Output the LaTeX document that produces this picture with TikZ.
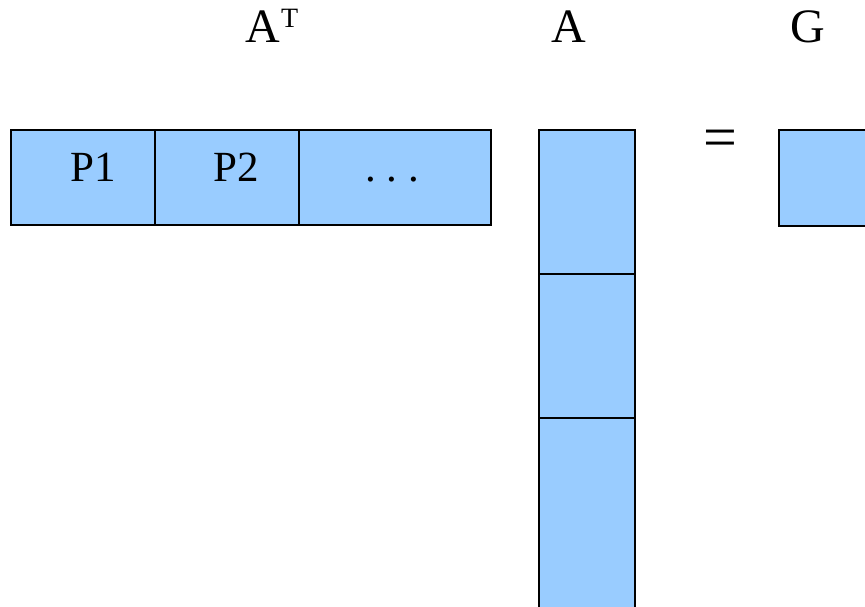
\documentclass[tikz,border=0pt]{standalone}
\usepackage{fontspec}
\setmainfont{Liberation Serif}
\begin{document}
\begin{tikzpicture}[x=1pt,y=-1pt,
  cell/.style={draw=black,line width=2pt,fill=cellblue,inner sep=0pt,outer sep=0pt},
  lbl/.style={font=\fontsize{48}{50}\selectfont,anchor=base,inner sep=0pt},
  celltext/.style={font=\fontsize{43}{46}\selectfont,anchor=base,inner sep=0pt}]
\definecolor{cellblue}{HTML}{99CCFF}
\useasboundingbox (0,0) rectangle (865,607);
\clip (0,0) rectangle (865,607);

% matrix labels
\node[lbl] (lA1) at (263,43) {A};
\node[font=\fontsize{28}{30}\selectfont,anchor=base west,inner sep=0pt] (lT) at (281,28) {T};
\node[lbl] (lA) at (569,43) {A};
\node[lbl] (lG) at (808,43) {G};

% row partition of A^T
\node[cell,minimum width=144pt,minimum height=95pt,anchor=north west] (p1) at (11,130) {};
\node[cell,minimum width=144pt,minimum height=95pt,anchor=north west] (p2) at (155,130) {};
\node[cell,minimum width=192pt,minimum height=95pt,anchor=north west] (p3) at (299,130) {};
\node[celltext] (tp1) at (93,182) {P1};
\node[celltext] (tp2) at (236,182) {P2};
\node[celltext] (tp3) at (392,182) {.\hspace{0.25em}.\hspace{0.25em}.};

% column partition of A
\node[cell,minimum width=96pt,minimum height=144pt,anchor=north west] (a1) at (539,130) {};
\node[cell,minimum width=96pt,minimum height=144pt,anchor=north west] (a2) at (539,274) {};
\node[cell,minimum width=96pt,minimum height=220pt,anchor=north west] (a3) at (539,418) {};

% equals sign and result block
\node[font=\fontsize{60}{62}\selectfont,anchor=base,inner sep=0pt] (eq) at (720,158) {=};
\node[cell,minimum width=120pt,minimum height=96pt,anchor=north west] (g) at (779,130) {};
\end{tikzpicture}
\end{document}
